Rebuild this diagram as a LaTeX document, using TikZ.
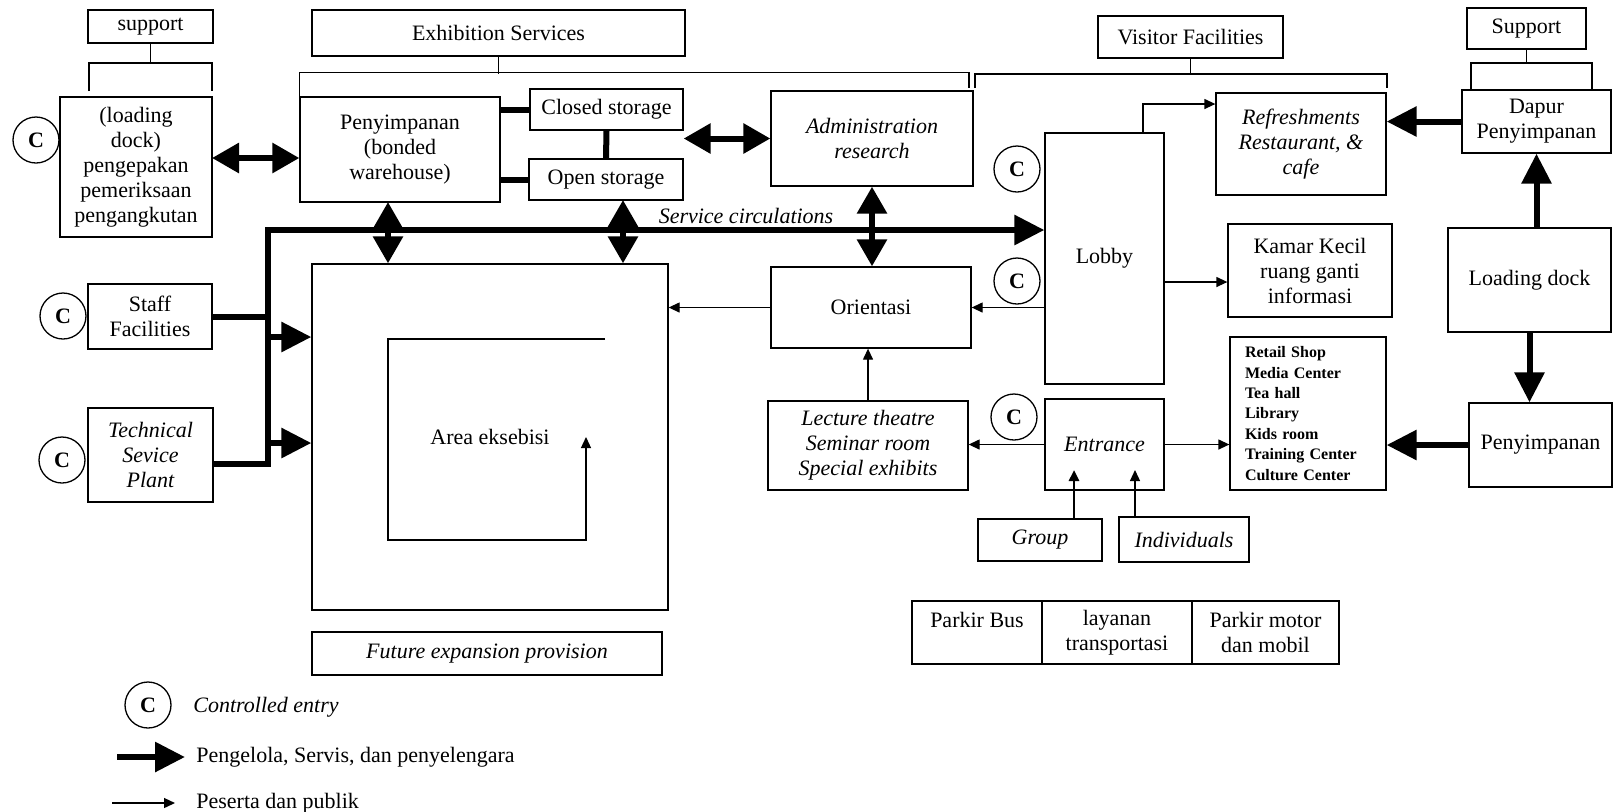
\documentclass[tikz,border=0pt]{standalone}
\usepackage{fontspec}
\setmainfont{Liberation Serif}
\usepackage{tikz}
\usetikzlibrary{arrows.meta}

\begin{document}
\begin{tikzpicture}
[x=0.5pt,y=-0.5pt,font=\fontsize{11}{12.5}\selectfont]
\tikzset{
	box/.style = {draw, line width=0.65pt, align=center, inner sep=0pt},
	ctrl/.style = {circle, draw, line width=0.65pt, minimum size=23pt, inner sep=0pt, font=\fontsize{11}{12}\selectfont\bfseries},
	bigline/.style = {line width=3pt, line join=miter},
	big/.style = {bigline, -{Triangle[length=15pt,width=14.5pt]}},
	bigboth/.style = {bigline, {Triangle[length=13.5pt,width=14.5pt]}-{Triangle[length=13.5pt,width=14.5pt]}},
	thinline/.style = {line width=0.65pt},
	small/.style = {thinline, -{Triangle[length=5.5pt,width=5pt]}},
	mid/.style = {line width=1.3pt, -{Triangle[length=5.5pt,width=5pt]}},
	it/.style = {font=\fontsize{11}{12.5}\selectfont\itshape}
}
\useasboundingbox (0,0) rectangle (1616,811);

% left side
\node (supL) [box, minimum width=62.5pt, minimum height=16.5pt] at (150.5,26.5) {support};
\node (dockL) [box, minimum width=76pt, minimum height=70pt] at (136,167) {(loading\\dock)\\pengepakan\\pemeriksaan\\pengangkutan};
\node (staff) [box, minimum width=62pt, minimum height=32.5pt] at (150,316.5) {Staff\\Facilities};
\node (tech) [box, it, minimum width=62.5pt, minimum height=47pt] at (150.5,455) {Technical\\Sevice\\Plant};
\node (cDock) [ctrl] at (36,140) {C};
\node (cStaff) [ctrl] at (63,316) {C};
\node (cTech) [ctrl] at (62,460) {C};

% exhibition services
\node (exhS) [box, minimum width=186.5pt, minimum height=23pt] at (498.5,33) {Exhibition Services};
\node (peny) [box, minimum width=100pt, minimum height=52.5pt] at (400,149.5) {Penyimpanan\\(bonded\\warehouse)};
\node (closed) [box, minimum width=76.5pt, minimum height=20.5pt] at (606.5,109.5) {Closed storage};
\node (open) [box, minimum width=77pt, minimum height=20.5pt] at (606,179.5) {Open storage};
\node (admin) [box, it, minimum width=101pt, minimum height=47.5pt] at (872,138.5) {Administration\\research};
\node (area) [box, minimum width=178pt, minimum height=173pt] at (490,437) {Area eksebisi};
\node (future) [box, it, minimum width=175pt, minimum height=21.5pt] at (487,653.5) {Future expansion provision};
\node (orient) [box, minimum width=100pt, minimum height=40.5pt] at (871,307.5) {Orientasi};
\node (lect) [box, it, minimum width=100pt, minimum height=44.5pt] at (868,445.5) {Lecture theatre\\Seminar room\\Special exhibits};
\node (svc) [it] at (746,216) {Service circulations};

% visitor facilities
\node (visF) [box, minimum width=92.5pt, minimum height=21pt] at (1190.5,37) {Visitor Facilities};
\node (lobby) [box, minimum width=59.5pt, minimum height=125.5pt] at (1104.5,258.5) {Lobby};
\node (refr) [box, it, minimum width=85pt, minimum height=51pt] at (1301,144) {Refreshments\\Restaurant, \&\\cafe};
\node (kamar) [box, minimum width=82pt, minimum height=46.5pt] at (1310,270.5) {Kamar Kecil\\ruang ganti\\informasi};
\node (entr) [box, it, minimum width=59.5pt, minimum height=45.5pt] at (1104.5,444.5) {Entrance};
\node (retail) [box, minimum width=78pt, minimum height=76.5pt, align=left, text width=63pt, font=\fontsize{8}{10.2}\selectfont\bfseries] at (1308,413.5) {Retail Shop\\Media Center\\Tea hall\\Library\\Kids room\\Training Center\\Culture Center};
\node (group) [box, it, minimum width=62pt, minimum height=21pt] at (1040,540) {Group};
\node (indiv) [box, it, minimum width=65pt, minimum height=22.5pt] at (1184,539.5) {Individuals};
\node (cLobby) [ctrl] at (1017,169) {C};
\node (cOrient) [ctrl] at (1017,281) {C};
\node (cEntr) [ctrl] at (1014,417) {C};

% parking
\node (parkA) [box, minimum width=65pt, minimum height=31.5pt] at (977,632.5) {Parkir Bus\\\phantom{x}};
\node (parkB) [box, minimum width=75pt, minimum height=31.5pt] at (1117,632.5) {layanan\\transportasi};
\node (parkC) [box, minimum width=73.5pt, minimum height=31.5pt] at (1265.5,632.5) {Parkir motor\\dan mobil};

% right side support
\node (supR) [box, minimum width=59.5pt, minimum height=20.5pt] at (1526.5,28.5) {Support};
\node (dapur) [box, minimum width=74.5pt, minimum height=31.5pt] at (1536.5,121.5) {Dapur\\Penyimpanan};
\node (loadR) [box, minimum width=81.5pt, minimum height=52pt] at (1529.5,280) {Loading dock};
\node (penyR) [box, minimum width=71.5pt, minimum height=42pt] at (1540.5,445) {Penyimpanan};

% legend
\node (cLeg) [ctrl] at (148,705) {C};
\node (legE) [it, anchor=west, inner sep=0pt] at (193,707) {Controlled entry};
\node (legB) [anchor=west, inner sep=0pt] at (196,757) {Pengelola, Servis, dan penyelengara};
\node (legD) [anchor=west, inner sep=0pt] at (196,803) {Peserta dan publik};
\coordinate (legA) at (117,757);
\coordinate (legC) at (112,803);

% brackets
\coordinate (blA) at (89,91);
\coordinate (blB) at (212,91);
\coordinate (beB) at (969,88);
\coordinate (bvA) at (975,88);
\coordinate (bvB) at (1387,88);
\coordinate (brA) at (1471,90);
\coordinate (brB) at (1592,90);
\draw [thinline] (supL.south) -- ++(0,20);
\draw [thinline] (blA) -- ++(0,-28) -| (blB);
\draw [thinline] (exhS.south) -- ++(0,17);
\draw [thinline] (peny.north west) -- ++(0,-24) -| (beB);
\draw [thinline] (visF.south) -- ++(0,16);
\draw [thinline] (bvA) -- ++(0,-14) -| (bvB);
\draw [thinline] (supR.south) -- ++(0,14);
\draw [thinline] (brA) -- ++(0,-27) -| (brB);

% service flows
\coordinate (spine) at (268,230);
\coordinate (in1) at (268,337);
\coordinate (in2) at (268,443);
\coordinate (dp) at (212,158);
\coordinate (pa) at (388,202);
\coordinate (oa) at (623,200);
\draw [big] ([yshift=-4.5pt]tech.east) -| (spine) -- (spine -| lobby.west);
\draw [bigline] (staff.east) -- (staff.east -| spine);
\draw [big] (in1) -- (in1 -| area.west);
\draw [big] (in2) -- (in2 -| area.west);
\draw [bigboth] (dp) -- (dp -| peny.west);
\draw [bigline] (closed.west -| peny.east) -- (closed.west);
\draw [bigline] (open.west -| peny.east) -- (open.west);
\draw [bigline] (closed.south) -- (open.north);
\draw [bigboth] (pa) -- (pa |- area.north);
\draw [bigboth] (oa) -- (oa |- area.north);
\draw [bigboth] (admin.west -| closed.east) -- (admin.west);
\draw [bigboth] (admin.south) -- (admin.south |- orient.north);
\draw [big] (dapur.west) -- (dapur.west -| refr.east);
\draw [big] (loadR.north -| dapur.south) -- (dapur.south);
\draw [big] (loadR.south) -- (loadR.south |- penyR.north);
\draw [big] (penyR.west) -- (penyR.west -| retail.east);

% visitor flows
\coordinate (lr) at (1143,104);
\coordinate (lk) at (1164,282);
\coordinate (gIn) at (1074,470);
\coordinate (iIn) at (1135,470);
\coordinate (spA) at (605,339);
\coordinate (spB) at (388,540);
\coordinate (spC) at (586,437);
\draw [small] (lr |- lobby.north) |- (lr -| refr.west);
\draw [small] (orient.east -| lobby.west) -- (orient.east);
\draw [small] (orient.west) -- (orient.west -| area.east);
\draw [small] (lk) -- (lk -| kamar.west);
\draw [small] (lect.north) -- (lect.north |- orient.south);
\draw [small] (entr.west) -- (entr.west -| lect.east);
\draw [small] (entr.east) -- (entr.east -| retail.west);
\draw [mid] (group.north -| gIn) -- (gIn);
\draw [small] (indiv.north -| iIn) -- (iIn);
\draw [small] (spA) -| (spB) -| (spC);

% legend arrows
\draw [big, shorten >=5.5pt] (legA) -- (legB.west);
\draw [small, shorten >=10.5pt] (legC) -- (legD.west);
\end{tikzpicture}
\end{document}
